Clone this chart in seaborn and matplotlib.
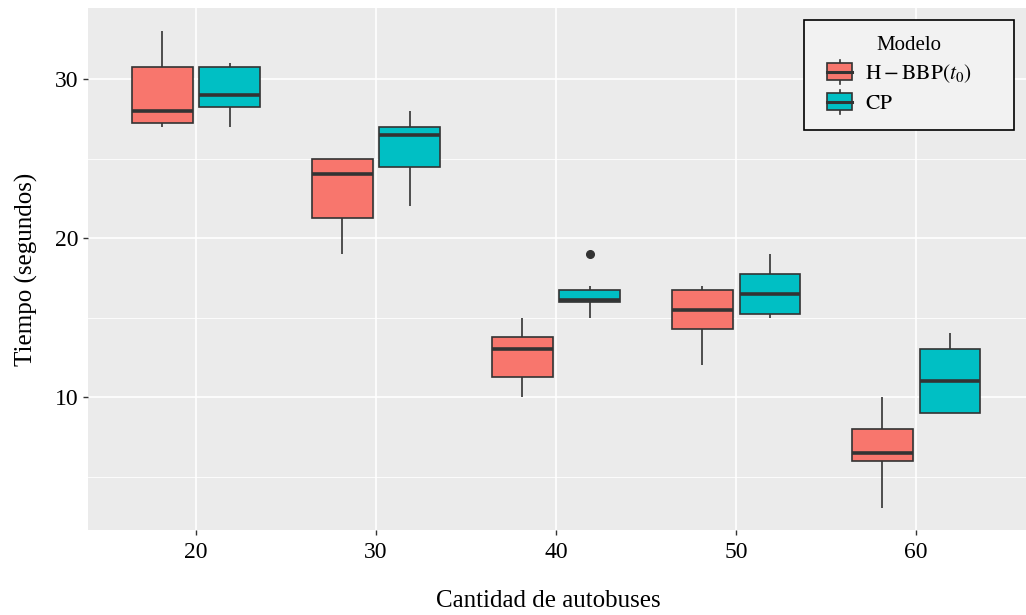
import matplotlib
matplotlib.use('Agg')
import matplotlib.pyplot as plt
import seaborn as sns
import pandas as pd
import numpy as np
from matplotlib.patches import Patch, Rectangle
from matplotlib.lines import Line2D
from matplotlib.legend_handler import HandlerBase
from matplotlib.ticker import MultipleLocator

# number of buses (x categories)
buses = ['20', '30', '40', '50', '60']

hbbp_times = [
    [27, 27.25, 28, 30.75, 33],
    [19, 21.25, 24, 25, 25],
    [10, 11.25, 13, 13.75, 15],
    [12, 14.25, 15.5, 16.75, 17],
    [3, 6, 6.5, 8, 10],
]
cp_times = [
    [27, 28.25, 29, 30.75, 31],
    [22, 24.5, 26.5, 27, 28],
    [15, 15.5, 16, 16, 16.1, 16.5, 16.75, 17, 19],
    [15, 15.25, 16.5, 17.75, 19],
    [9, 9, 11, 13, 14],
]

models = ['H-BBP(t0)', 'CP']
model_labels = [r'$\mathrm{H-BBP}(t_0)$', r'$\mathrm{CP}$']
colors = ['#F8766D', '#00BFC4']

rows = []
for model, series in zip(models, [hbbp_times, cp_times]):
    for b, vals in zip(buses, series):
        for v in vals:
            rows.append({'Cantidad': b, 'Tiempo': v, 'Modelo': model})
df = pd.DataFrame(rows)

plt.rcParams['font.family'] = ['Liberation Serif', 'DejaVu Serif']
plt.rcParams['mathtext.fontset'] = 'stix'

fig = plt.figure(figsize=(10.26, 6.15), dpi=100)
ax = fig.add_axes([88 / 1026, 1 - 530 / 615, (1026 - 88) / 1026, (530 - 8) / 615])
ax.set_facecolor('#EBEBEB')
ax.set_axisbelow(True)

sns.boxplot(data=df, x='Cantidad', y='Tiempo', hue='Modelo', order=buses,
            hue_order=models, palette=colors, saturation=1, width=0.75, gap=0.1,
            linecolor='#333333', linewidth=1.2, showcaps=False,
            flierprops=dict(marker='o', markersize=5.5, markerfacecolor='#333333',
                            markeredgecolor='#333333'),
            medianprops=dict(linewidth=2.6, color='#333333'),
            legend=False, ax=ax)

ax.set_xlim(-0.6, 4.61)
ax.set_ylim(1.64, 34.47)
ax.yaxis.set_major_locator(MultipleLocator(10))
ax.yaxis.set_minor_locator(MultipleLocator(5))
ax.grid(which='major', color='white', linewidth=1.2)
ax.grid(which='minor', axis='y', color='white', linewidth=0.6)
for s in ax.spines.values():
    s.set_visible(False)
ax.tick_params(which='major', colors='#333333', length=3.5, width=1,
               labelsize=17, labelcolor='black')
ax.tick_params(which='minor', length=0)
ax.tick_params(axis='x', pad=5)

ax.set_xlabel('Cantidad de autobuses', fontsize=18)
ax.set_ylabel('Tiempo (segundos)', fontsize=18, labelpad=12)
ax.xaxis.set_label_coords((548 - 88) / 938, -0.114)
ax.xaxis.label.set_va('top')


class BoxHandler(HandlerBase):
    def create_artists(self, legend, orig_handle, xdescent, ydescent, width,
                       height, fontsize, trans):
        bw = width * 0.78
        cx = width - xdescent - bw / 2
        bh = height * 0.74
        y0 = height / 2 - ydescent - bh / 2
        rect = Rectangle((cx - bw / 2, y0), bw, bh, facecolor=orig_handle.get_facecolor(),
                         edgecolor='#333333', linewidth=1.2, transform=trans)
        med = Line2D([cx - bw / 2, cx + bw / 2], [y0 + bh / 2] * 2, color='#333333',
                     linewidth=2.2, transform=trans)
        w1 = Line2D([cx, cx], [y0 + bh, y0 + bh + height * 0.16], color='#333333',
                    linewidth=1.2, transform=trans)
        w2 = Line2D([cx, cx], [y0, y0 - height * 0.16], color='#333333',
                    linewidth=1.2, transform=trans)
        return [w1, w2, rect, med]


handles = [Patch(facecolor=c) for c in colors]
leg = ax.legend(handles, model_labels, title='Modelo', loc='upper left',
                bbox_to_anchor=((804 - 88) / 938, 0.3, 210 / 938, 0.677), mode='expand',
                handler_map={Patch: BoxHandler()},
                fontsize=15.5, title_fontsize=15, frameon=True, fancybox=False,
                handlelength=1.5, handleheight=1.25, borderpad=0.75, labelspacing=0.25,
                handletextpad=0.6, borderaxespad=0)
leg.get_frame().set_facecolor('#F2F2F2')
leg.get_frame().set_edgecolor('black')
leg.get_frame().set_linewidth(1.2)
leg.get_frame().set_alpha(1)

fig.savefig('out.png', dpi=100)
